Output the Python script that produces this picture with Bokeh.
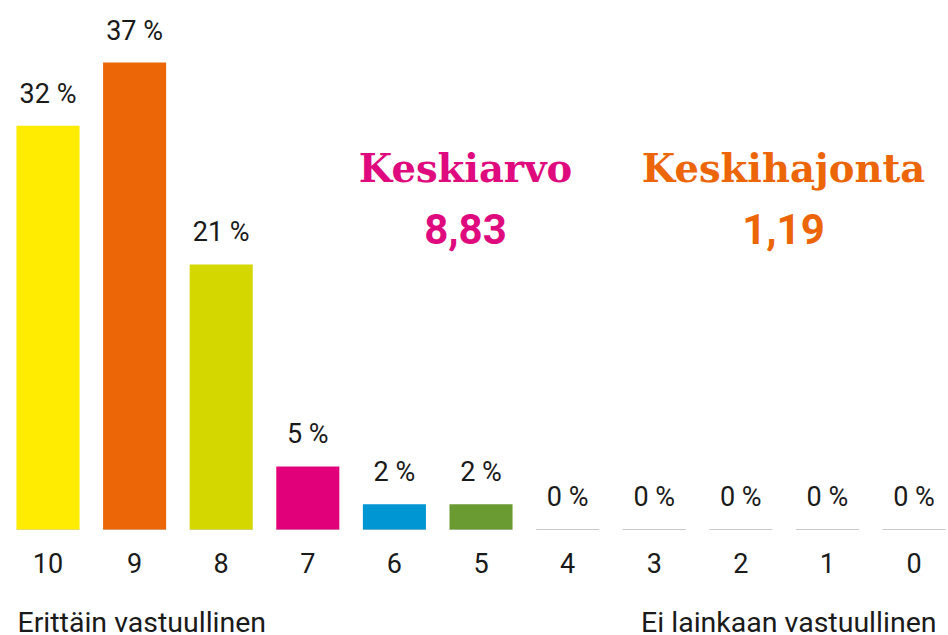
from bokeh.plotting import figure
from bokeh.models import ColumnDataSource, Label, Range1d
from bokeh.core.properties import value
from bokeh.embed import file_html
from bokeh.resources import INLINE

categories = ["10", "9", "8", "7", "6", "5", "4", "3", "2", "1", "0"]
percent = [32, 37, 21, 5, 2, 2, 0, 0, 0, 0, 0]
colors = ["#FFEC00", "#EC6608", "#D4D800", "#E2007A", "#0096D3", "#6A9A32",
          "#cccccc", "#cccccc", "#cccccc", "#cccccc", "#cccccc"]
mean_title, mean_value = "Keskiarvo", "8,83"
sd_title, sd_value = "Keskihajonta", "1,19"
left_label = "Erittäin vastuullinen"
right_label = "Ei lainkaan vastuullinen"

W, H = 948, 635
pos = list(range(len(categories)))
src = ColumnDataSource(dict(
    x=pos,
    top=percent,
    color=colors,
    cat=categories,
    lbl=[f"{v} %" for v in percent],
    x0=[i - 0.364 for i in pos],
    x1=[i + 0.364 for i in pos],
    zero=[0] * len(pos),
))

p = figure(width=W, height=H, output_backend="svg", toolbar_location=None,
           x_range=Range1d(-0.5485, 10.398), y_range=Range1d(-8.40, 41.92),
           min_border=0, outline_line_color=None)
p.axis.visible = False
p.grid.visible = False
p.background_fill_color = "white"

p.segment(x0="x0", x1="x1", y0="zero", y1="zero", source=src,
          line_color="#c8c8c8", line_width=1)
p.vbar(x="x", top="top", bottom=0, width=0.728, source=src,
       fill_color="color", line_color=None)

font = value("Roboto")
p.text(x="x", y="top", text="lbl", source=src, text_font=font,
       text_font_size="27px", text_color="#1a1a1a", text_align="center",
       text_baseline="alphabetic", y_offset=-32)
p.text(x="x", y="zero", text="cat", source=src, text_font=font,
       text_font_size="27px", text_color="#1a1a1a", text_align="center",
       text_baseline="alphabetic", y_offset=34)

p.add_layout(Label(x=17, y=H - 622, x_units="screen", y_units="screen",
                   text=left_label, text_font="Roboto", text_font_size="28.5px",
                   text_color="#1a1a1a", text_align="left", text_baseline="alphabetic"))
p.add_layout(Label(x=936, y=H - 622, x_units="screen", y_units="screen",
                   text=right_label, text_font="Roboto", text_font_size="28.5px",
                   text_color="#1a1a1a", text_align="right", text_baseline="alphabetic"))

slab = "DejaVu Serif"
magenta, orange = "#DE0A7E", "#EC6608"
p.add_layout(Label(x=465, y=H - 168, x_units="screen", y_units="screen",
                   text=mean_title, text_font=slab, text_font_style="bold",
                   text_font_size="38.5px", text_color=magenta,
                   text_align="center", text_baseline="alphabetic"))
p.add_layout(Label(x=465, y=H - 228, x_units="screen", y_units="screen",
                   text=mean_value, text_font="Roboto", text_font_style="bold",
                   text_font_size="42px", text_color=magenta,
                   text_align="center", text_baseline="alphabetic"))
p.add_layout(Label(x=783, y=H - 168, x_units="screen", y_units="screen",
                   text=sd_title, text_font=slab, text_font_style="bold",
                   text_font_size="38.5px", text_color=orange,
                   text_align="center", text_baseline="alphabetic"))
p.add_layout(Label(x=783, y=H - 228, x_units="screen", y_units="screen",
                   text=sd_value, text_font="Roboto", text_font_style="bold",
                   text_font_size="42px", text_color=orange,
                   text_align="center", text_baseline="alphabetic"))

open("out.html", "w").write(file_html(p, INLINE))
